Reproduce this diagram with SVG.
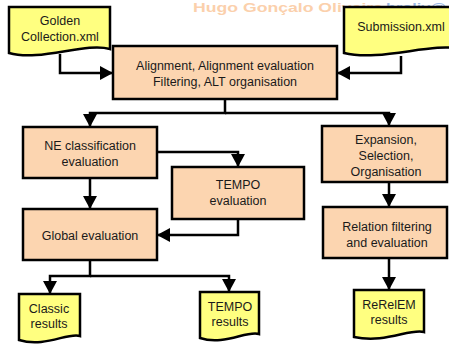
<svg xmlns="http://www.w3.org/2000/svg" width="449" height="347" viewBox="0 0 449 347">
<style>
.box{fill:#fcd5b0;stroke:#000;stroke-width:2.5}
.doc{fill:#ffff80;stroke:#000;stroke-width:2.5}
.t{font-family:"Liberation Sans",Arial,sans-serif;font-size:12.5px;fill:#1a1a1a;text-anchor:middle}
.c{fill:none;stroke:#000;stroke-width:2.5;marker-end:url(#ah)}
.wm{font-family:"Liberation Sans",Arial,sans-serif;font-size:13px;font-weight:bold}
</style>
<defs>
<marker id="ah" markerUnits="userSpaceOnUse" markerWidth="14" markerHeight="14" refX="13" refY="7" orient="auto">
<path d="M0,0 L13,7 L0,14 Z" fill="#000"/>
</marker>
</defs>
<rect width="449" height="347" fill="#fff"/>
<g id="watermark">
<text class="wm" x="193" y="12" fill="#fbd0ac" textLength="190" lengthAdjust="spacingAndGlyphs">Hugo Gonçalo Oliveira</text>
<text class="wm" x="386" y="12" fill="#9bb8e6" textLength="60" lengthAdjust="spacingAndGlyphs">hroliv@</text>
</g>
<g id="connectors">
<path class="c" d="M60,54 V73 H113"/>
<path class="c" d="M401,56 V73 H337"/>
<path class="c" d="M225,99 V113 H90 V127"/>
<path class="c" d="M225,113 H389 V126"/>
<path class="c" d="M157,152 H238 V167"/>
<path class="c" d="M90,178 V209"/>
<path class="c" d="M238,219 V235 H157"/>
<path class="c" d="M90,260 V276 H50 V294"/>
<path class="c" d="M90,276 H229 V292"/>
<path class="c" d="M389,182 V207"/>
<path class="c" d="M389,258 V290"/>
</g>
<g id="golden">
<path class="doc" d="M9,7 H110 V49 C85,42 40,62 9,53 Z"/>
<text class="t" x="60" y="25">Golden</text>
<text class="t" x="60" y="41">Collection.xml</text>
</g>
<g id="submission">
<path class="doc" d="M344,7 H460 V49 C433,42 380,62 344,53 Z"/>
<text class="t" x="401" y="31">Submission.xml</text>
</g>
<g id="alignment">
<rect class="box" x="113" y="46" width="224" height="53"/>
<text class="t" x="225" y="70">Alignment, Alignment evaluation</text>
<text class="t" x="225" y="86">Filtering, ALT organisation</text>
</g>
<g id="ne">
<rect class="box" x="23" y="127" width="134" height="51"/>
<text class="t" x="90" y="150">NE classification</text>
<text class="t" x="90" y="166">evaluation</text>
</g>
<g id="tempo">
<rect class="box" x="172" y="167" width="132" height="52"/>
<text class="t" x="238" y="189">TEMPO</text>
<text class="t" x="238" y="205">evaluation</text>
</g>
<g id="global">
<rect class="box" x="23" y="209" width="134" height="51"/>
<text class="t" x="90" y="240">Global evaluation</text>
</g>
<g id="expansion">
<rect class="box" x="322" y="126" width="125" height="56"/>
<text class="t" x="386" y="144">Expansion,</text>
<text class="t" x="386" y="160">Selection,</text>
<text class="t" x="386" y="176">Organisation</text>
</g>
<g id="relation">
<rect class="box" x="323" y="207" width="124" height="51"/>
<text class="t" x="387" y="231">Relation filtering</text>
<text class="t" x="387" y="247">and evaluation</text>
</g>
<g id="classic">
<path class="doc" d="M19,294 H80 V336 C68,332 45,348 19,340 Z"/>
<text class="t" x="49" y="313">Classic</text>
<text class="t" x="49" y="328">results</text>
</g>
<g id="temporesults">
<path class="doc" d="M200,292 H259 V334 C247,330 224,346 200,338 Z"/>
<text class="t" x="230" y="311">TEMPO</text>
<text class="t" x="230" y="326">results</text>
</g>
<g id="rerelem">
<path class="doc" d="M354,290 H424 V332 C410,328 385,344 354,337 Z"/>
<text class="t" x="389" y="309">ReRelEM</text>
<text class="t" x="389" y="324">results</text>
</g>
</svg>
